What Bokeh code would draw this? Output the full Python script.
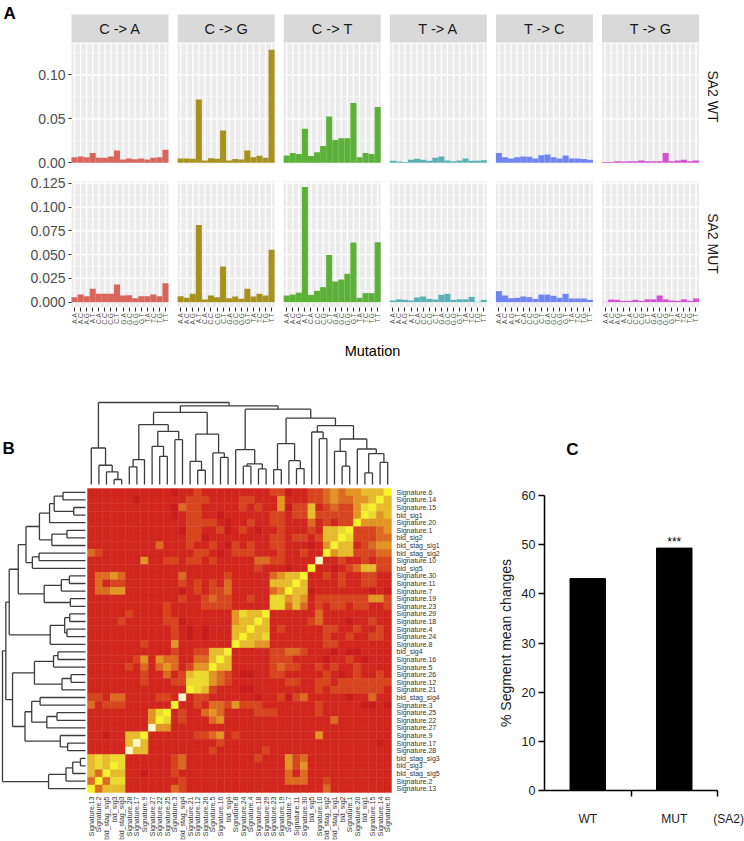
import math
from bokeh.plotting import figure
from bokeh.layouts import column, row
from bokeh.models import ColumnDataSource, FixedTicker, Range1d, PrintfTickFormatter
from bokeh.transform import linear_cmap
from bokeh.core.properties import value
from bokeh.embed import file_html
from bokeh.resources import INLINE

FONT = "Liberation Sans"

# ------------------------------------------------------------------ Panel A data
SUBSTITUTIONS = ["C -> A", "C -> G", "C -> T", "T -> A", "T -> C", "T -> G"]
SUB_COLORS = ["#d8665c", "#a8921e", "#5cb238", "#5bb1b3", "#7185f2", "#d44fd6"]
CONTEXT_LABELS = [a + "." + b for a in "ACGT" for b in "ACGT"]
ROW_NAMES = ["SA2 WT", "SA2 MUT"]

WT_C_A = [0.0064, 0.0072, 0.0064, 0.0110, 0.0057, 0.0057, 0.0072, 0.0140, 0.0038, 0.0050, 0.0040, 0.0050, 0.0038, 0.0057, 0.0064, 0.0148]
WT_C_G = [0.0050, 0.0050, 0.0045, 0.0720, 0.0027, 0.0053, 0.0045, 0.0368, 0.0027, 0.0042, 0.0038, 0.0140, 0.0064, 0.0080, 0.0057, 0.1285]
WT_C_T = [0.0083, 0.0110, 0.0100, 0.0387, 0.0076, 0.0120, 0.0190, 0.0527, 0.0260, 0.0280, 0.0280, 0.0680, 0.0064, 0.0110, 0.0100, 0.0633]
WT_T_A = [0.0023, 0.0015, 0.0010, 0.0034, 0.0045, 0.0034, 0.0023, 0.0057, 0.0072, 0.0027, 0.0019, 0.0027, 0.0050, 0.0023, 0.0023, 0.0030]
WT_T_C = [0.0110, 0.0064, 0.0050, 0.0064, 0.0072, 0.0068, 0.0050, 0.0087, 0.0095, 0.0064, 0.0050, 0.0083, 0.0050, 0.0050, 0.0042, 0.0034]
WT_T_G = [0.0010, 0.0010, 0.0019, 0.0015, 0.0019, 0.0019, 0.0027, 0.0019, 0.0019, 0.0019, 0.0110, 0.0019, 0.0027, 0.0034, 0.0019, 0.0027]

MUT_C_A = [0.0053, 0.0080, 0.0063, 0.0140, 0.0088, 0.0088, 0.0088, 0.0186, 0.0070, 0.0074, 0.0042, 0.0063, 0.0063, 0.0080, 0.0063, 0.0200]
MUT_C_G = [0.0063, 0.0046, 0.0088, 0.0810, 0.0028, 0.0070, 0.0053, 0.0375, 0.0042, 0.0060, 0.0035, 0.0140, 0.0060, 0.0088, 0.0070, 0.0550]
MUT_C_T = [0.0070, 0.0080, 0.0100, 0.1210, 0.0077, 0.0120, 0.0158, 0.0497, 0.0217, 0.0238, 0.0298, 0.0627, 0.0046, 0.0095, 0.0095, 0.0630]
MUT_T_A = [0.0018, 0.0030, 0.0025, 0.0018, 0.0050, 0.0060, 0.0035, 0.0028, 0.0077, 0.0088, 0.0025, 0.0030, 0.0030, 0.0056, 0.0005, 0.0025]
MUT_T_C = [0.0116, 0.0070, 0.0042, 0.0046, 0.0060, 0.0053, 0.0035, 0.0080, 0.0080, 0.0067, 0.0046, 0.0088, 0.0039, 0.0039, 0.0039, 0.0025]
MUT_T_G = [0.0004, 0.0028, 0.0025, 0.0014, 0.0014, 0.0025, 0.0014, 0.0030, 0.0030, 0.0070, 0.0030, 0.0018, 0.0014, 0.0030, 0.0014, 0.0039]

WT_VALUES = [WT_C_A, WT_C_G, WT_C_T, WT_T_A, WT_T_C, WT_T_G]
MUT_VALUES = [MUT_C_A, MUT_C_G, MUT_C_T, MUT_T_A, MUT_T_C, MUT_T_G]

WT_TICKS = [0.0, 0.05, 0.10]
MUT_TICKS = [0.0, 0.025, 0.05, 0.075, 0.10, 0.125]

# ------------------------------------------------------------------ Panel B data
SIG_LABELS = [
    "Signature.6", "Signature.14", "Signature.15", "bld_sig1", "Signature.20",
    "Signature.1", "bld_sig2", "bld_stag_sig1", "bld_stag_sig2", "Signature.10",
    "bld_sig5", "Signature.30", "Signature.11", "Signature.7", "Signature.19",
    "Signature.23", "Signature.29", "Signature.18", "Signature.4", "Signature.24",
    "Signature.8", "bld_sig4", "Signature.16", "Signature.5", "Signature.26",
    "Signature.12", "Signature.21", "bld_stag_sig4", "Signature.3", "Signature.25",
    "Signature.22", "Signature.27", "Signature.9", "Signature.17", "Signature.28",
    "bld_stag_sig3", "bld_sig3", "bld_stag_sig5", "Signature.2", "Signature.13",
]
# similarity level (0 = low, red ... 8 = high, pale yellow); row i lists columns 39-i .. 39
HEAT_TRI = [
    "7",
    "75",
    "755",
    "7645",
    "74444",
    "722234",
    "7622233",
    "75512344",
    "745522233",
    "8112112122",
    "71101235522",
    "7" "11212112211",
    "75" "11112112211",
    "755" "01111111010",
    "6454" "12222222442",
    "66353" "12122122112",
    "7" "11111" "13" "111111111",
    "75" "11111" "23" "111011211",
    "755" "1211111221121121",
    "7556" "1111111211211221",
    "75544" "1111111221111111",
    "7" "11111" "22332" "11101001111",
    "75" "11111" "22211" "11011210111",
    "755" "11111" "23221" "12121121111",
    "6432" "10011" "22111" "11210121121",
    "66432" "11111" "11221" "12212222222",
    "765211" "10011" "11111" "12122222221",
    "8" "122111" "11101" "12023" "11111011311",
    "71" "121332" "42221" "11111" "12111110010",
    "712" "113431" "11122" "21111" "12111111111",
    "76" "12" "111341" "11111" "11111" "11131111111",
    "844" "11" "111111" "11111" "11111" "11111111111",
    "7" "11111" "122341" "21111" "11111" "14111111111",
    "85" "11111" "111121" "11111" "11111" "11111111101",
    "855" "11111" "111211" "11112" "11111" "11111111111",
    "6" "111111" "23" "111111" "11121" "11423" "11111111111",
    "76" "111111" "23" "111111" "11111" "11424" "11111111111",
    "755" "110111" "21" "111111" "11111" "11313" "11111111111",
    "7366" "111111" "12" "111111" "11111" "11333" "11211111111",
    "73555" "111111" "32" "111111" "11111" "11111" "11311111111",
]
HEAT_PALETTE = ["#c81c1c", "#d1261d", "#d7451e", "#dc6a20", "#e29524", "#e7bb2b",
                "#ecd92f", "#f6f32a", "#fbf8c6"]
# dendrogram merges over columns (leaf c = SIG_LABELS[39-c]); height relative to root
DENDRO_MERGES = [
    (3, 4, 0.061), (2, 40, 0.154), (1, 41, 0.235), (0, 42, 0.445),
    (5, 6, 0.215), (44, 7, 0.304), (9, 10, 0.344), (8, 46, 0.466),
    (11, 12, 0.547), (47, 48, 0.648), (45, 49, 0.729), (14, 15, 0.174),
    (13, 51, 0.283), (17, 18, 0.332), (16, 53, 0.385), (52, 54, 0.615),
    (50, 55, 0.879), (20, 21, 0.223), (22, 23, 0.190), (57, 58, 0.251),
    (19, 59, 0.425), (24, 25, 0.182), (27, 28, 0.194), (26, 62, 0.291),
    (61, 63, 0.498), (30, 31, 0.559), (29, 65, 0.640), (33, 34, 0.223),
    (32, 67, 0.405), (36, 37, 0.142), (38, 39, 0.271), (69, 70, 0.377),
    (35, 71, 0.433), (68, 72, 0.555), (66, 73, 0.717), (64, 74, 0.810),
    (60, 75, 0.919), (56, 76, 0.960), (43, 77, 1.000),
]

# ------------------------------------------------------------------ Panel C data
GROUPS = ["WT", "MUT"]
SEGMENT_CHANGE = [43.1, 49.3]
SIGNIF = ["", "***"]
C_TICKS = [0, 10, 20, 30, 40, 50, 60]


def base_fig(**kw):
    p = figure(output_backend="svg", toolbar_location=None, min_border=0, **kw)
    p.background_fill_color = "white"
    p.border_fill_color = "white"
    p.outline_line_color = None
    p.xgrid.visible = False
    p.ygrid.visible = False
    return p


# ================================================================== Panel A
N_CTX = 16
BAR_W = 2
STEP = 35
PXA = 673 / 222.0          # pixels per x unit
A_LEFT = 71                # pixel of the first panel's left edge
WT_PX, WT_Y0 = 880.0, 162.3   # px per unit, pixel row of y = 0 (WT)
MUT_PX, MUT_Y0 = 952.0, 301.7


def style_yaxis_a(p, fmt, ticks):
    ax = p.yaxis[0]
    ax.fixed_location = 0
    ax.ticker = FixedTicker(ticks=ticks)
    ax.formatter = PrintfTickFormatter(format=fmt)
    ax.axis_line_color = None
    ax.major_tick_line_color = "#333333"
    ax.major_tick_line_width = 1.1
    ax.major_tick_out = 3
    ax.major_tick_in = 0
    ax.minor_tick_line_color = None
    ax.major_label_text_font = FONT
    ax.major_label_text_font_size = "14px"
    ax.major_label_text_color = "#4d4d4d"
    ax.major_label_standoff = 3


def draw_facets(p, values, ybot, ytop, majors, minors):
    for f in range(6):
        left = f * STEP
        right = left + N_CTX * BAR_W
        p.quad(left=[left], right=[right], bottom=[ybot], top=[ytop],
               fill_color="#ebebeb", line_color=None)
        p.segment(x0=[left] * len(minors), x1=[right] * len(minors), y0=minors, y1=minors,
                  line_color="white", line_width=0.6)
        p.segment(x0=[left] * len(majors), x1=[right] * len(majors), y0=majors, y1=majors,
                  line_color="white", line_width=1.3)
        xs = [left + BAR_W * k + 1 for k in range(N_CTX)]
        p.segment(x0=xs, x1=xs, y0=[ybot] * N_CTX, y1=[ytop] * N_CTX,
                  line_color="white", line_width=1.3)
        src = ColumnDataSource(dict(x=xs, top=values[f]))
        p.vbar(x="x", top="top", bottom=0, width=BAR_W, source=src,
               fill_color=SUB_COLORS[f], line_color=None)


a_xrange = (-A_LEFT / PXA, (744 - A_LEFT) / PXA)

# ---- WT row (canvas y 0..172)
wt = base_fig(width=744, height=172, x_range=Range1d(*a_xrange),
              y_range=Range1d((WT_Y0 - 172) / WT_PX, WT_Y0 / WT_PX), x_axis_location=None)
draw_facets(wt, WT_VALUES, -0.0012, (WT_Y0 - 43) / WT_PX, [0.0, 0.05, 0.10], [0.025, 0.075, 0.125])
strip_l = [f * STEP for f in range(6)]
strip_r = [f * STEP + N_CTX * BAR_W for f in range(6)]
wt.quad(left=strip_l, right=strip_r, bottom=[(WT_Y0 - 42) / WT_PX] * 6,
        top=[(WT_Y0 - 14) / WT_PX] * 6, fill_color="#d9d9d9", line_color=None)
wt.text(x=[f * STEP + N_CTX for f in range(6)], y=[(WT_Y0 - 28) / WT_PX] * 6, text=SUBSTITUTIONS,
        text_font=value(FONT), text_font_size="14.5px", text_color="#1a1a1a",
        text_align="center", text_baseline="middle")
wt.text(x=[(712 - A_LEFT) / PXA], y=[(WT_Y0 - 96) / WT_PX], text=[ROW_NAMES[0]], angle=-math.pi / 2,
        text_font=value(FONT), text_font_size="14px", text_color="#1a1a1a",
        text_align="center", text_baseline="middle")
wt.text(x=[(3 - A_LEFT) / PXA], y=[(WT_Y0 - 12.5) / WT_PX], text=["A"],
        text_font=value(FONT), text_font_size="17px", text_font_style="bold",
        text_color="black", text_align="left", text_baseline="middle")
style_yaxis_a(wt, "%.2f", WT_TICKS)

# ---- MUT row (canvas y 172..365)
mut_bottom = (MUT_Y0 - 306.7) / MUT_PX
mut = base_fig(width=744, height=193, x_range=Range1d(*a_xrange),
               y_range=Range1d((MUT_Y0 - 365) / MUT_PX, (MUT_Y0 - 172) / MUT_PX))
draw_facets(mut, MUT_VALUES, mut_bottom, (MUT_Y0 - 180.7) / MUT_PX, MUT_TICKS,
            [0.0125, 0.0375, 0.0625, 0.0875, 0.1125])
mut.text(x=[(712 - A_LEFT) / PXA], y=[(MUT_Y0 - 243) / MUT_PX], text=[ROW_NAMES[1]],
         angle=-math.pi / 2, text_font=value(FONT), text_font_size="14px",
         text_color="#1a1a1a", text_align="center", text_baseline="middle")
mut.text(x=[(372 - A_LEFT) / PXA], y=[(MUT_Y0 - 350) / MUT_PX], text=["Mutation"],
         text_font=value(FONT), text_font_size="14.5px", text_color="black",
         text_align="center", text_baseline="middle")
style_yaxis_a(mut, "%.3f", MUT_TICKS)
tick_pos = [f * STEP + BAR_W * k + 1 for f in range(6) for k in range(N_CTX)]
xa = mut.xaxis[0]
xa.fixed_location = mut_bottom
xa.ticker = FixedTicker(ticks=tick_pos)
xa.major_label_overrides = {t: CONTEXT_LABELS[i % N_CTX] for i, t in enumerate(tick_pos)}
xa.major_label_orientation = math.pi / 2
xa.major_label_text_font = FONT
xa.major_label_text_font_size = "6.5px"
xa.major_label_text_color = "#4d4d4d"
xa.major_label_standoff = 2
xa.axis_line_color = None
xa.major_tick_line_color = "#333333"
xa.major_tick_line_width = 1.1
xa.major_tick_out = 4
xa.major_tick_in = 0
xa.minor_tick_line_color = None

# ================================================================== Panel B (canvas x 0..480, y 365..841)
B_PX = 7.6
HX0, HY0 = 87, 792          # heatmap left / bottom pixel
fb = base_fig(width=480, height=476,
              x_range=Range1d(-HX0 / B_PX, (480 - HX0) / B_PX),
              y_range=Range1d((HY0 - 841) / B_PX, (HY0 - 365) / B_PX),
              x_axis_location=None, y_axis_location=None)

N = len(SIG_LABELS)
grid = [[1] * N for _ in range(N)]
for i, s in enumerate(HEAT_TRI):
    for k, ch in enumerate(s):
        j = N - 1 - i + k
        grid[i][j] = int(ch)
        grid[N - 1 - j][N - 1 - i] = int(ch)
hx, hy, hl = [], [], []
for i in range(N):
    for j in range(N):
        hx.append(j + 0.5)
        hy.append(N - 0.5 - i)
        hl.append(grid[i][j])
hsrc = ColumnDataSource(dict(x=hx, y=hy, level=hl))
cmap = linear_cmap("level", HEAT_PALETTE, 0, len(HEAT_PALETTE) - 1)
fb.rect(x="x", y="y", width=1, height=1, source=hsrc, fill_color=cmap,
        line_color=cmap, line_width=0.4)

pos = {c: c + 0.5 for c in range(N)}
hgt = {c: 0.0 for c in range(N)}
segs = []
for idx, (a, b, h) in enumerate(DENDRO_MERGES):
    segs.append((pos[a], hgt[a], pos[a], h))
    segs.append((pos[b], hgt[b], pos[b], h))
    segs.append((pos[a], h, pos[b], h))
    pos[N + idx] = (pos[a] + pos[b]) / 2
    hgt[N + idx] = h
TOP_Y0 = (HY0 - 484) / B_PX
TOP_H = (484 - 402) / B_PX
LEFT_X0 = (85 - HX0) / B_PX
LEFT_W = (85 - 2) / B_PX
fb.segment(x0=[s[0] for s in segs], y0=[TOP_Y0 + s[1] * TOP_H for s in segs],
           x1=[s[2] for s in segs], y1=[TOP_Y0 + s[3] * TOP_H for s in segs],
           line_color="#3c3c3c", line_width=1.3)
fb.segment(y0=[s[0] for s in segs], x0=[LEFT_X0 - s[1] * LEFT_W for s in segs],
           y1=[s[2] for s in segs], x1=[LEFT_X0 - s[3] * LEFT_W for s in segs],
           line_color="#3c3c3c", line_width=1.3)

fb.text(x=[(396 - HX0) / B_PX] * N, y=[N - 0.5 - i for i in range(N)], text=SIG_LABELS,
        text_font=value(FONT), text_font_size="7px", text_color="#333333",
        text_align="left", text_baseline="middle")
fb.text(x=[c + 0.5 for c in range(N)], y=[(HY0 - 796) / B_PX] * N, text=SIG_LABELS[::-1],
        angle=math.pi / 2, text_font=value(FONT), text_font_size="7px",
        text_color="#333333", text_align="right", text_baseline="middle")
fb.text(x=[(2 - HX0) / B_PX], y=[(HY0 - 448) / B_PX], text=["B"], text_font=value(FONT),
        text_font_size="17px", text_font_style="bold", text_color="black",
        text_align="left", text_baseline="middle")

# ================================================================== Panel C (canvas x 480..744, y 365..841)
C_XPX = 86.5
C_YPX = 295 / 60.0
CX0, CY0 = 544, 790          # pixel of x = 0 / y = 0
fc = base_fig(width=264, height=476,
              x_range=Range1d((480 - CX0) / C_XPX, (744 - CX0) / C_XPX),
              y_range=Range1d((CY0 - 841) / C_YPX, (CY0 - 365) / C_YPX))
cx = [0.5, 1.5]
fc.vbar(x=cx, top=SEGMENT_CHANGE, bottom=0, width=0.41, fill_color="black", line_color="black")
fc.text(x=cx, y=[v + 1.2 for v in SEGMENT_CHANGE], text=SIGNIF, text_font=value(FONT),
        text_font_size="12px", text_color="black", text_align="center",
        text_baseline="alphabetic")
fc.segment(x0=[0], y0=[0], x1=[2], y1=[0], line_color="black", line_width=1.5)
fc.text(x=[(572 - CX0) / C_XPX], y=[(CY0 - 449) / C_YPX], text=["C"], text_font=value(FONT),
        text_font_size="17px", text_font_style="bold", text_color="black",
        text_align="center", text_baseline="middle")

ya = fc.yaxis[0]
ya.fixed_location = 0
ya.ticker = FixedTicker(ticks=C_TICKS)
ya.bounds = (0, 60)
ya.axis_line_width = 1.5
ya.axis_line_color = "black"
ya.major_tick_line_width = 1.5
ya.major_tick_line_color = "black"
ya.major_tick_out = 6
ya.major_tick_in = 0
ya.minor_tick_line_color = None
ya.major_label_text_font = FONT
ya.major_label_text_font_size = "12.5px"
ya.major_label_text_color = "#1a1a1a"
ya.major_label_standoff = 3
ya.axis_label = "% Segment mean changes"
ya.axis_label_text_font = FONT
ya.axis_label_text_font_size = "14px"
ya.axis_label_text_font_style = "normal"
ya.axis_label_text_color = "#1a1a1a"
ya.axis_label_standoff = 5

xc = fc.xaxis[0]
xc.fixed_location = 0
label_pos = [0.5, 1.5, 2.128]
xc.ticker = FixedTicker(ticks=label_pos, minor_ticks=[1, 2])
xc.major_label_overrides = {0.5: GROUPS[0], 1.5: GROUPS[1], 2.128: "(SA2)"}
xc.axis_line_color = None
xc.major_tick_line_color = None
xc.major_tick_out = 0
xc.major_tick_in = 0
xc.minor_tick_line_color = "black"
xc.minor_tick_line_width = 1.5
xc.minor_tick_out = 6
xc.minor_tick_in = 0
xc.major_label_standoff = 15
xc.major_label_text_font = FONT
xc.major_label_text_font_size = "12px"
xc.major_label_text_color = "#1a1a1a"

layout = column(wt, mut, row(fb, fc))
open("out.html", "w").write(file_html(layout, INLINE, title="Mutational signatures"))
